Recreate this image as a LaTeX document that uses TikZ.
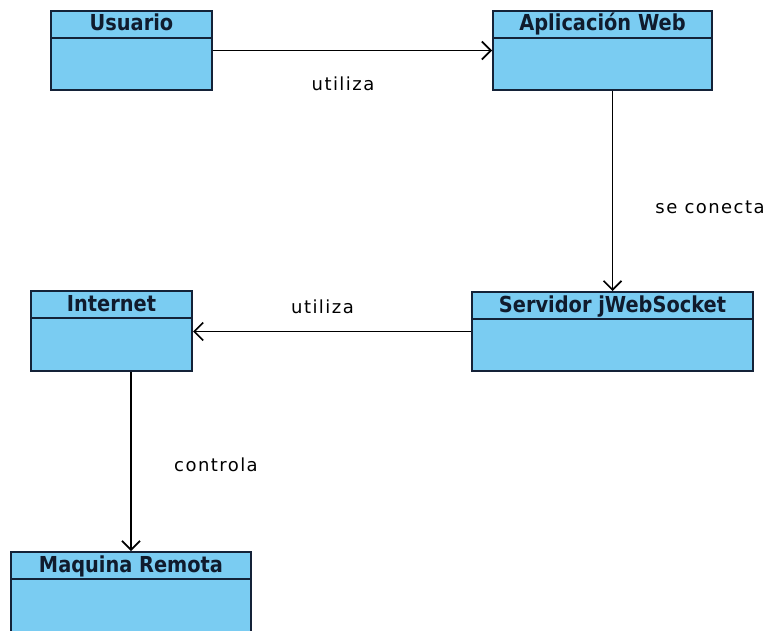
\documentclass[tikz,border=0pt]{standalone}
\usepackage{fontspec}
\setmainfont{DejaVu Sans}
\newfontfamily\labelfont[LetterSpace=8]{DejaVu Sans}
\newfontfamily\titlefont[FakeStretch=0.88]{DejaVu Sans Bold}
\usetikzlibrary{arrows.meta}
\definecolor{clsfill}{RGB}{122,204,242}
\definecolor{clsline}{RGB}{20,34,56}
\tikzset{
  cls/.style={draw=clsline, fill=clsfill, line width=2pt, rectangle, inner sep=0pt},
  ttl/.style={anchor=base, inner sep=0pt, text=clsline!80!black,
    font=\titlefont\fontsize{22}{24}\selectfont},
  lbl/.style={anchor=base, inner sep=0pt, font=\labelfont\fontsize{18}{21}\selectfont},
  conn/.style={draw=black, line width=1.7pt, -{Straight Barb[length=9pt,width=18pt,line width=1.7pt]}},
}
% UML class box with a title band 28px high
\newcommand{\umlclass}[5]{%
  \node[cls, minimum width=#3, minimum height=#4] (#1) at (#2) {};
  \draw[clsline, line width=1.8pt] ([yshift=-28pt]#1.north west) -- ([yshift=-28pt]#1.north east);
  \node[ttl] at ([yshift=-21pt]#1.north) {#5};
}
\begin{document}
\begin{tikzpicture}[x=1pt, y=-1pt]
  \useasboundingbox (0,0) rectangle (771,631);
  \clip (0,0) rectangle (771,631);
  \fill[white] (0,0) rectangle (771,631);

  \umlclass{usu}{131.5,50.5}{161pt}{79pt}{Usuario}
  \umlclass{app}{602.5,50.5}{219pt}{79pt}{Aplicación Web}
  \umlclass{srv}{612.5,331.5}{281pt}{79pt}{Servidor jWebSocket}
  \umlclass{inet}{111.5,331}{161pt}{80pt}{Internet}
  \umlclass{maq}{131,594.5}{240pt}{85pt}{Maquina Remota}

  % associations
  \draw[conn] (usu.east) -- (app.west);
  \draw[conn] (srv.north |- app.south) -- (srv.north);
  \draw[conn] (srv.west) -- (srv.west -| inet.east);
  \draw[conn] (maq.north |- inet.south) -- (maq.north);

  % association labels
  \node[lbl] (l1) at (343,90.5) {utiliza};
  \node[lbl] (l2) at (710,214) {se conecta};
  \node[lbl] (l3) at (322.5,313) {utiliza};
  \node[lbl] (l4) at (216,471.5) {controla};
\end{tikzpicture}
\end{document}
